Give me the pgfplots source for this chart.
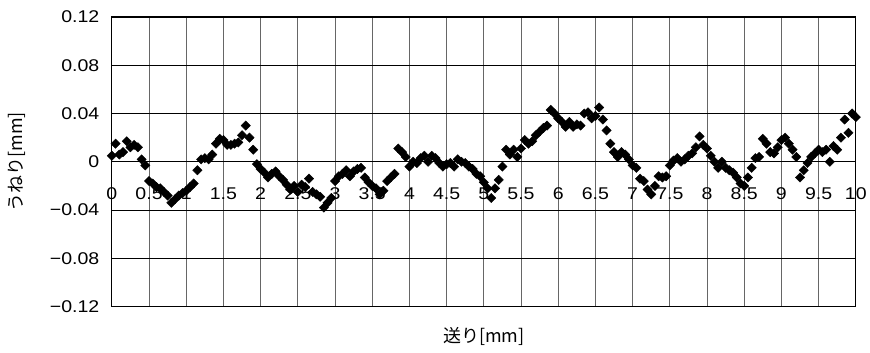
\documentclass[border=0pt]{standalone}
\usepackage{fontspec}
\setmainfont{Liberation Sans}
\newfontfamily\jp{Noto Sans CJK JP}
\usepackage{graphicx}
\usepackage{pgfplots}
\pgfplotsset{compat=1.18}
\newcommand\tl[1]{\scalebox{1.15}[1]{#1}}
\begin{document}
\begin{tikzpicture}
\begin{axis}[
  scale only axis,
  width=745pt, height=290pt,
  xmin=0, xmax=10, ymin=-0.12, ymax=0.12,
  xtick={0,0.5,...,10},
  xticklabels={\tl{0},\tl{0.5},\tl{1},\tl{1.5},\tl{2},\tl{2.5},\tl{3},\tl{3.5},\tl{4},\tl{4.5},\tl{5},\tl{5.5},\tl{6},\tl{6.5},\tl{7},\tl{7.5},\tl{8},\tl{8.5},\tl{9},\tl{9.5},\tl{10}},
  ytick={-0.12,-0.08,-0.04,0,0.04,0.08,0.12},
  yticklabels={\tl{−0.12},\tl{−0.08},\tl{−0.04},\tl{0},\tl{0.04},\tl{0.08},\tl{0.12}},
  major tick length=0pt,
  grid=major,
  major x grid style={black!60, line width=0.8pt},
  major y grid style={black, line width=0.8pt},
  axis line style={black, line width=1pt},
  tick label style={font=\fontsize{17}{20}\selectfont},
  xticklabel style={anchor=center, yshift=113pt},
  yticklabel style={anchor=east, xshift=-9pt},
  xlabel={\jp\fontsize{18}{21}\selectfont 送り[mm]},
  ylabel={\jp\fontsize{18}{21}\selectfont うねり[mm]},
  xlabel style={at={(axis description cs:0.5,0)}, anchor=center, yshift=-30pt},
  ylabel style={at={(axis description cs:0,0.5)}, anchor=center, yshift=95pt},
  clip=false,
]
\addplot[only marks, mark=square*, mark size=3.3pt, mark options={rotate=45, fill=black, draw=black}] table {
x y
0.00 0.005
0.05 0.015
0.10 0.006
0.15 0.008
0.20 0.017
0.25 0.012
0.30 0.014
0.35 0.012
0.40 0.002
0.45 -0.003
0.50 -0.016
0.55 -0.018
0.60 -0.021
0.65 -0.022
0.70 -0.025
0.75 -0.028
0.80 -0.034
0.85 -0.031
0.90 -0.028
0.95 -0.026
1.00 -0.024
1.05 -0.021
1.10 -0.018
1.15 -0.007
1.20 0.002
1.25 0.003
1.30 0.002
1.35 0.006
1.40 0.015
1.45 0.019
1.50 0.018
1.55 0.014
1.60 0.014
1.65 0.015
1.70 0.016
1.75 0.022
1.80 0.030
1.85 0.020
1.90 0.010
1.95 -0.002
2.00 -0.006
2.05 -0.009
2.10 -0.013
2.15 -0.010
2.20 -0.008
2.25 -0.012
2.30 -0.015
2.35 -0.019
2.40 -0.023
2.45 -0.020
2.50 -0.025
2.55 -0.019
2.60 -0.021
2.65 -0.014
2.70 -0.025
2.75 -0.027
2.80 -0.029
2.85 -0.038
2.90 -0.034
2.95 -0.030
3.00 -0.016
3.05 -0.012
3.10 -0.010
3.15 -0.007
3.20 -0.012
3.25 -0.008
3.30 -0.006
3.35 -0.005
3.40 -0.013
3.45 -0.017
3.50 -0.020
3.55 -0.022
3.60 -0.027
3.65 -0.024
3.70 -0.016
3.75 -0.013
3.80 -0.010
3.85 0.011
3.90 0.008
3.95 0.004
4.00 -0.004
4.05 0.000
4.10 -0.001
4.15 0.003
4.20 0.005
4.25 0.000
4.30 0.005
4.35 0.003
4.40 -0.001
4.45 -0.004
4.50 -0.002
4.55 -0.001
4.60 -0.004
4.65 0.002
4.70 0.000
4.75 -0.001
4.80 -0.004
4.85 -0.006
4.90 -0.010
4.95 -0.012
5.00 -0.017
5.05 -0.022
5.10 -0.030
5.15 -0.022
5.20 -0.015
5.25 -0.004
5.30 0.010
5.35 0.006
5.40 0.010
5.45 0.004
5.50 0.011
5.55 0.018
5.60 0.015
5.65 0.017
5.70 0.022
5.75 0.025
5.80 0.028
5.85 0.030
5.90 0.043
5.95 0.040
6.00 0.036
6.05 0.033
6.10 0.029
6.15 0.033
6.20 0.029
6.25 0.031
6.30 0.030
6.35 0.040
6.40 0.041
6.45 0.036
6.50 0.038
6.55 0.045
6.60 0.035
6.65 0.026
6.70 0.015
6.75 0.008
6.80 0.004
6.85 0.008
6.90 0.006
6.95 0.002
7.00 -0.003
7.05 -0.005
7.10 -0.014
7.15 -0.016
7.20 -0.023
7.25 -0.027
7.30 -0.020
7.35 -0.012
7.40 -0.013
7.45 -0.012
7.50 -0.003
7.55 0.001
7.60 0.003
7.65 0.000
7.70 0.002
7.75 0.005
7.80 0.007
7.85 0.012
7.90 0.021
7.95 0.014
8.00 0.011
8.05 0.005
8.10 0.000
8.15 -0.005
8.20 0.000
8.25 -0.005
8.30 -0.007
8.35 -0.009
8.40 -0.013
8.45 -0.018
8.50 -0.020
8.55 -0.013
8.60 -0.005
8.65 0.003
8.70 0.004
8.75 0.019
8.80 0.015
8.85 0.008
8.90 0.007
8.95 0.012
9.00 0.018
9.05 0.020
9.10 0.015
9.15 0.010
9.20 0.004
9.25 -0.013
9.30 -0.007
9.35 -0.001
9.40 0.004
9.45 0.007
9.50 0.010
9.55 0.008
9.60 0.010
9.65 0.000
9.70 0.013
9.75 0.010
9.80 0.020
9.85 0.035
9.90 0.024
9.95 0.040
10.00 0.037
};
\end{axis}
\path (current axis.south west) ++(-112pt,-46pt) rectangle ++(870pt,353pt);
\end{tikzpicture}
\end{document}
